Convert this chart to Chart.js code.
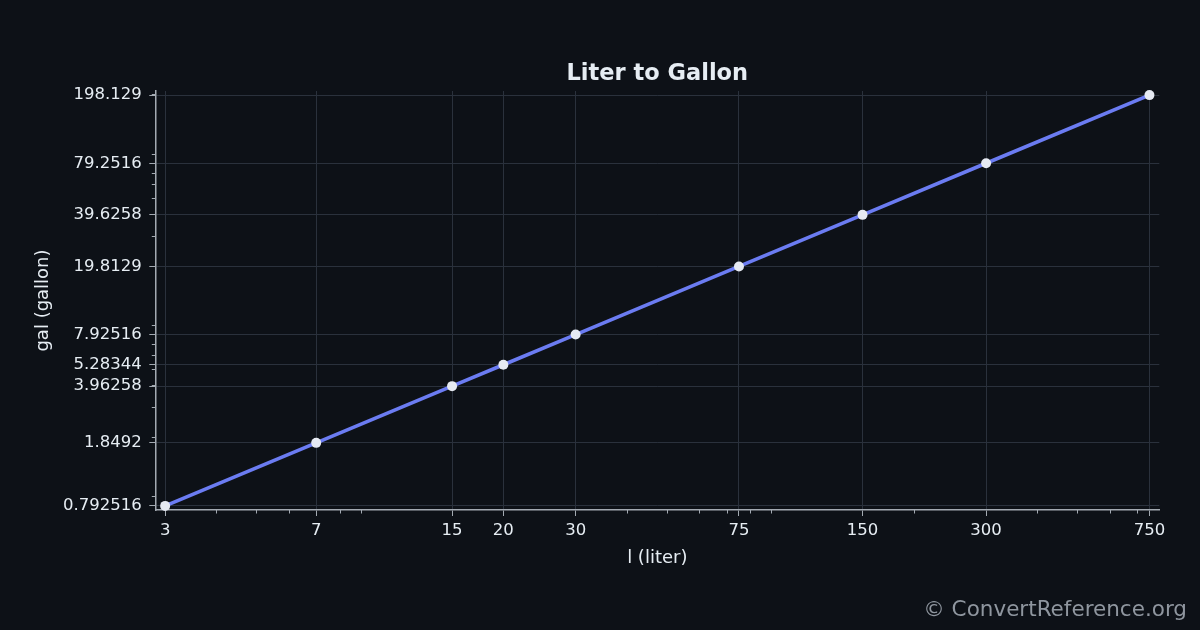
<!DOCTYPE html>
<html>
<head>
<meta charset="utf-8">
<title>Liter to Gallon</title>
<script src="https://cdn.jsdelivr.net/npm/chart.js@4.4.1/dist/chart.umd.min.js"></script>
<style>
    html, body { margin: 0; padding: 0; background: #0d1117; }
    #wrap { position: relative; width: 1200px; height: 630px; }
    #credit {
        position: absolute; right: 13px; top: 596px;
        font-family: "DejaVu Sans", sans-serif; font-size: 21.5px;
        color: #8f969f; white-space: nowrap;
    }
</style>
</head>
<body>
<div id="wrap">
    <canvas id="mainChart" width="1200" height="630"></canvas>
    <div id="credit">© ConvertReference.org</div>
</div>
<script>
// Data (liters -> US gallons)
const liters = [3, 7, 15, 20, 30, 75, 150, 300, 750];
const gallons = [0.792516, 1.8492, 3.96258, 5.28344, 7.92516, 19.8129, 39.6258, 79.2516, 198.129];

// labelled ticks = data points, minor ticks = matplotlib style 2..9 per decade
const xTicks = liters;
const yTicks = gallons;
const xMinor = [4, 5, 6, 8, 9, 40, 50, 60, 70, 80, 90, 200, 400, 500, 600, 700];
const yMinor = [0.8, 0.9, 2, 3, 4, 5, 6, 7, 8, 9, 20, 30, 40, 50, 60, 70, 80, 90, 200];

// Look
const BG = '#0d1117';
const TEXT = '#e6edf3';
const GRID = '#2a313c';
const SPINE = '#a3aab2';
const LINE = '#6b7cf2';
const FONT = '"DejaVu Sans", sans-serif';

// a little air around the data, like matplotlib's margins
const pad = 1.0568;
const xMin = liters[0] / pad, xMax = liters[liters.length - 1] * pad;
const yMin = gallons[0] / pad, yMax = gallons[gallons.length - 1] * pad;

// --- Plugins ---

const background = {
    id: 'background',
    beforeDraw(chart) {
        const c = chart.ctx;
        c.save();
        c.fillStyle = BG;
        c.fillRect(0, 0, chart.width, chart.height);
        c.restore();
    }
};

const minorTicks = {
    id: 'minorTicks',
    afterDraw(chart) {
        const c = chart.ctx;
        const a = chart.chartArea;
        const sx = chart.scales.x, sy = chart.scales.y;
        c.save();
        c.strokeStyle = SPINE;
        c.lineWidth = 1;
        xMinor.forEach(v => {
            if (v < sx.min || v > sx.max) return;
            const px = Math.round(sx.getPixelForValue(v)) + 0.5;
            c.beginPath();
            c.moveTo(px, a.bottom);
            c.lineTo(px, a.bottom + 3.5);
            c.stroke();
        });
        yMinor.forEach(v => {
            if (v < sy.min || v > sy.max) return;
            const py = Math.round(sy.getPixelForValue(v)) + 0.5;
            c.beginPath();
            c.moveTo(a.left, py);
            c.lineTo(a.left - 3.5, py);
            c.stroke();
        });
        c.restore();
    }
};

// title centred over the plot area, not the canvas
const plotTitle = {
    id: 'plotTitle',
    afterDraw(chart) {
        const c = chart.ctx;
        const a = chart.chartArea;
        c.save();
        c.font = 'bold 22.5px ' + FONT;
        c.fillStyle = TEXT;
        c.textAlign = 'center';
        c.textBaseline = 'middle';
        c.fillText('Liter to Gallon', (a.left + a.right) / 2, 74.5);
        c.restore();
    }
};

// --- Chart ---

const ctx = document.getElementById('mainChart').getContext('2d');

const myChart = new Chart(ctx, {
    type: 'line',
    data: {
        datasets: [{
            label: 'gal',
            data: liters.map((l, i) => ({ x: l, y: gallons[i] })),
            borderColor: LINE,
            borderWidth: 3.6,
            backgroundColor: '#e6eaf2',
            pointBackgroundColor: '#e6eaf2',
            pointBorderWidth: 0,
            pointRadius: 5,
            tension: 0,
            clip: false
        }]
    },
    options: {
        responsive: false,
        animation: false,
        devicePixelRatio: 1,
        layout: { padding: { top: 91, right: 40.7, bottom: 0, left: 0 } },
        plugins: {
            legend: { display: false },
            tooltip: { enabled: false },
            title: { display: false }
        },
        scales: {
            x: {
                type: 'logarithmic',
                min: xMin,
                max: xMax,
                afterFit: s => { s.height = 120; },
                afterBuildTicks: s => {
                    s.ticks = xTicks.map(v => ({ value: v }));
                    s.min = xMin; s.max = xMax;
                },
                ticks: {
                    autoSkip: false,
                    maxRotation: 0,
                    padding: 5,
                    color: TEXT,
                    font: { family: FONT, size: 16.5 },
                    callback: v => String(v)
                },
                grid: {
                    color: GRID,
                    lineWidth: 1,
                    tickColor: SPINE,
                    tickLength: 6
                },
                border: { display: true, color: SPINE, width: 1.5 },
                title: {
                    display: true,
                    text: 'l (liter)',
                    color: TEXT,
                    font: { family: FONT, size: 18 },
                    padding: { top: 0, bottom: 61 }
                }
            },
            y: {
                type: 'logarithmic',
                min: yMin,
                max: yMax,
                afterFit: s => { s.width = 155.3; },
                afterBuildTicks: s => {
                    s.ticks = yTicks.map(v => ({ value: v }));
                    s.min = yMin; s.max = yMax;
                },
                ticks: {
                    autoSkip: false,
                    padding: 7.6,
                    color: TEXT,
                    font: { family: FONT, size: 16.5 },
                    callback: v => String(v)
                },
                grid: {
                    color: GRID,
                    lineWidth: 1,
                    tickColor: SPINE,
                    tickLength: 6
                },
                border: { display: true, color: SPINE, width: 1.5 },
                title: {
                    display: true,
                    text: 'gal (gallon)',
                    color: TEXT,
                    font: { family: FONT, size: 18 },
                    padding: { top: 32.5, bottom: 0 }
                }
            }
        }
    },
    plugins: [background, minorTicks, plotTitle]
});
</script>
</body>
</html>
